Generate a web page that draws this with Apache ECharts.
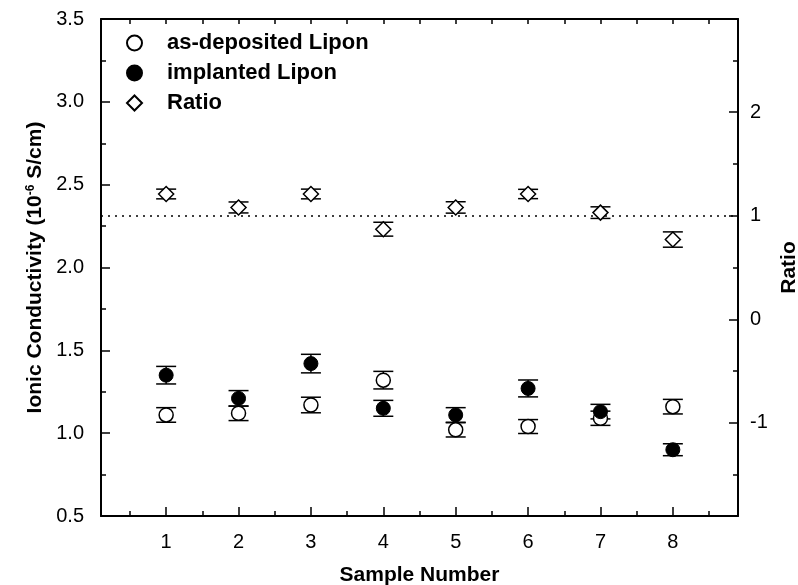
<!DOCTYPE html>
<html>
<head>
<meta charset="utf-8">
<script src="https://cdn.jsdelivr.net/npm/echarts@6/dist/echarts.min.js"></script>
<style>html,body{margin:0;padding:0;background:#fff;}#c{width:798px;height:585px;}</style>
</head>
<body>
<div id="c"></div>
<script>
var samples = [1, 2, 3, 4, 5, 6, 7, 8];
var asDeposited = [1.11, 1.12, 1.17, 1.32, 1.02, 1.04, 1.09, 1.16];
var asDepositedErr = [0.044, 0.044, 0.047, 0.053, 0.043, 0.042, 0.043, 0.044];
var implanted = [1.35, 1.21, 1.42, 1.15, 1.11, 1.27, 1.13, 0.90];
var implantedErr = [0.053, 0.047, 0.056, 0.048, 0.044, 0.051, 0.044, 0.036];
var ratio = [1.21, 1.08, 1.21, 0.87, 1.08, 1.21, 1.03, 0.77];
var ratioErr = [0.047, 0.053, 0.047, 0.067, 0.055, 0.045, 0.056, 0.074];
var xLabels = [1, 2, 3, 4, 5, 6, 7, 8];
var xMinorTicks = [0.5, 1.5, 2.5, 3.5, 4.5, 5.5, 6.5, 7.5, 8.5];
var xTopTicks = [0.5, 1, 1.5, 2, 2.5, 3, 3.5, 4, 4.5, 5, 5.5, 6, 6.5, 7, 7.5, 8, 8.5];
var ratioLabels = [-1, 0, 1, 2];
var ratioMinorTicks = [-1.5, -0.5, 0.5, 1.5, 2.5];

var FONT = 'Liberation Sans';
var chart = echarts.init(document.getElementById('c'), null, {renderer: 'canvas'});

function errData(vals, errs) {
  return samples.map(function (s, i) { return [s, vals[i] - errs[i], vals[i] + errs[i]]; });
}
function errRender(params, api) {
  var x = api.value(0);
  var lo = api.coord([x, api.value(1)]);
  var hi = api.coord([x, api.value(2)]);
  var h = 10;
  var st = {stroke: '#000', lineWidth: 1.5};
  return {
    type: 'group',
    children: [
      {type: 'line', shape: {x1: lo[0], y1: lo[1], x2: hi[0], y2: hi[1]}, style: st},
      {type: 'line', shape: {x1: lo[0] - h, y1: lo[1], x2: lo[0] + h, y2: lo[1]}, style: st},
      {type: 'line', shape: {x1: hi[0] - h, y1: hi[1], x2: hi[0] + h, y2: hi[1]}, style: st}
    ]
  };
}

var axisLineStyle = {color: '#000', width: 2};
var tickStyle = {color: '#000', width: 1.5};

var option = {
  backgroundColor: '#fff',
  animation: false,
  textStyle: {fontFamily: FONT},
  grid: {left: 101, right: 60, top: 19, bottom: 69, containLabel: false, outerBoundsMode: 'none'},
  legend: {
    orient: 'vertical',
    left: 126,
    top: 32,
    padding: 0,
    itemWidth: 15,
    itemHeight: 15,
    itemGap: 8,
    selectedMode: false,
    textStyle: {fontFamily: FONT, fontSize: 22, fontWeight: 'bold', color: '#000', padding: [0, 0, 0, 20]},
    data: ['as-deposited Lipon', 'implanted Lipon', 'Ratio']
  },
  xAxis: [
    {
      type: 'value', position: 'bottom', min: 0.1, max: 8.9,
      name: 'Sample Number', nameLocation: 'middle', nameGap: 49,
      nameTextStyle: {fontFamily: FONT, fontSize: 21, fontWeight: 'bold', color: '#000'},
      axisLine: {show: true, onZero: false, lineStyle: axisLineStyle},
      axisTick: {show: true, inside: true, length: 9, lineStyle: tickStyle, customValues: xLabels},
      axisLabel: {show: true, customValues: xLabels, margin: 16, fontFamily: FONT, fontSize: 20, color: '#000'},
      splitLine: {show: false}
    },
    {
      type: 'value', position: 'bottom', min: 0.1, max: 8.9,
      axisLine: {show: false, onZero: false},
      axisTick: {show: true, inside: true, length: 5, lineStyle: tickStyle, customValues: xMinorTicks},
      axisLabel: {show: false},
      splitLine: {show: false}
    },
    {
      type: 'value', position: 'top', min: 0.1, max: 8.9,
      axisLine: {show: true, onZero: false, lineStyle: axisLineStyle},
      axisTick: {show: true, inside: true, length: 5, lineStyle: tickStyle, customValues: xTopTicks},
      axisLabel: {show: false},
      splitLine: {show: false}
    }
  ],
  yAxis: [
    {
      type: 'value', position: 'left', min: 0.5, max: 3.5, interval: 0.5,
      name: 'Ionic Conductivity (10{sup|-6} S/cm)',
      nameLocation: 'middle', nameGap: 54, nameRotate: 90,
      nameTextStyle: {
        fontFamily: FONT, fontSize: 21, fontWeight: 'bold', color: '#000',
        rich: {sup: {fontFamily: FONT, fontSize: 12, fontWeight: 'bold', color: '#000', verticalAlign: 'top', padding: [0, 0, 9, 0]}}
      },
      axisLine: {show: true, onZero: false, lineStyle: axisLineStyle},
      axisTick: {show: true, inside: true, length: 9, lineStyle: tickStyle},
      minorTick: {show: true, splitNumber: 2, length: 5, lineStyle: tickStyle},
      axisLabel: {show: true, margin: 17, fontFamily: FONT, fontSize: 20, color: '#000',
        formatter: function (v) { return v.toFixed(1); }},
      splitLine: {show: false}
    },
    {
      type: 'value', position: 'right', min: -1.9, max: 2.9,
      name: 'Ratio', nameLocation: 'middle', nameGap: 35, nameRotate: 90,
      nameTextStyle: {fontFamily: FONT, fontSize: 21, fontWeight: 'bold', color: '#000'},
      axisLine: {show: true, onZero: false, lineStyle: axisLineStyle},
      axisTick: {show: true, inside: true, length: 9, lineStyle: tickStyle, customValues: ratioLabels},
      axisLabel: {show: true, customValues: ratioLabels, margin: 12, fontFamily: FONT, fontSize: 20, color: '#000'},
      splitLine: {show: false}
    },
    {
      type: 'value', position: 'right', min: -1.9, max: 2.9,
      axisLine: {show: false, onZero: false},
      axisTick: {show: true, inside: true, length: 5, lineStyle: tickStyle, customValues: ratioMinorTicks},
      axisLabel: {show: false},
      splitLine: {show: false}
    }
  ],
  series: [
    {
      type: 'custom', name: 'errDep', xAxisIndex: 0, yAxisIndex: 0, z: 2,
      renderItem: errRender, encode: {x: 0, y: [1, 2]},
      data: errData(asDeposited, asDepositedErr), silent: true
    },
    {
      type: 'custom', name: 'errImp', xAxisIndex: 0, yAxisIndex: 0, z: 2,
      renderItem: errRender, encode: {x: 0, y: [1, 2]},
      data: errData(implanted, implantedErr), silent: true
    },
    {
      type: 'custom', name: 'errRatio', xAxisIndex: 0, yAxisIndex: 1, z: 2,
      renderItem: errRender, encode: {x: 0, y: [1, 2]},
      data: errData(ratio, ratioErr), silent: true
    },
    {
      type: 'scatter', name: 'as-deposited Lipon', xAxisIndex: 0, yAxisIndex: 0, z: 5,
      symbol: 'circle', symbolSize: 14,
      itemStyle: {color: '#fff', borderColor: '#000', borderWidth: 1.5, opacity: 1},
      data: samples.map(function (s, i) { return [s, asDeposited[i]]; })
    },
    {
      type: 'scatter', name: 'implanted Lipon', xAxisIndex: 0, yAxisIndex: 0, z: 5,
      symbol: 'circle', symbolSize: 14,
      itemStyle: {color: '#000', borderColor: '#000', borderWidth: 1, opacity: 1},
      data: samples.map(function (s, i) { return [s, implanted[i]]; })
    },
    {
      type: 'scatter', name: 'Ratio', xAxisIndex: 0, yAxisIndex: 1, z: 5,
      symbol: 'diamond', symbolSize: 15,
      itemStyle: {color: '#fff', borderColor: '#000', borderWidth: 1.5, opacity: 1},
      data: samples.map(function (s, i) { return [s, ratio[i]]; }),
      markLine: {
        silent: true, symbol: ['none', 'none'], label: {show: false},
        lineStyle: {color: '#000', type: [2, 5], width: 1.5},
        data: [{yAxis: 1}], z: 1
      }
    }
  ]
};
chart.setOption(option);
</script>
</body>
</html>
